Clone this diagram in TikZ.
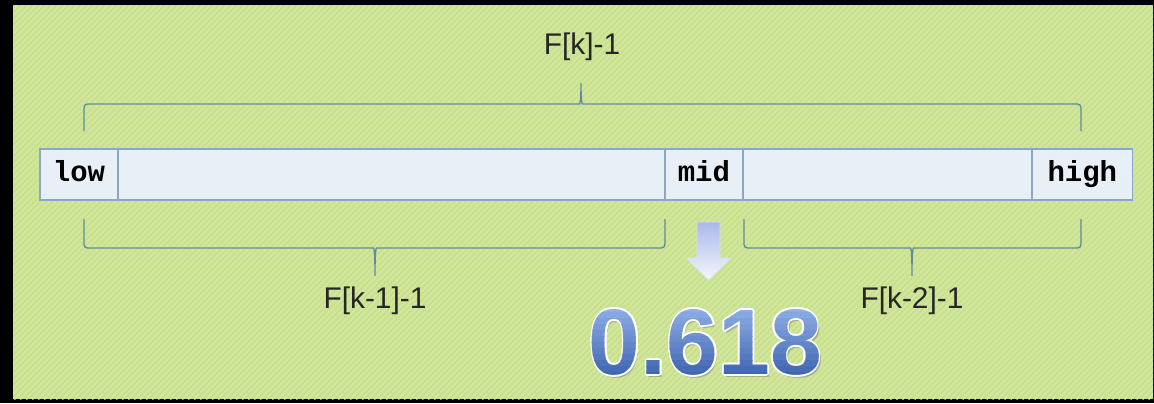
\documentclass[tikz,border=0pt]{standalone}
\usepackage{fontspec}
\setmainfont{Liberation Sans}
\setmonofont{Liberation Mono}
\usepackage{tikz}
\usetikzlibrary{positioning,calc}

\definecolor{bggreen}{RGB}{197,222,138}
\definecolor{stripegreen}{RGB}{209,230,154}
\definecolor{cellfill}{RGB}{233,239,247}
\definecolor{celledge}{RGB}{138,168,198}
\definecolor{bracecol}{RGB}{98,138,158}
\definecolor{ratiotop}{RGB}{150,180,235}
\definecolor{ratiobot}{RGB}{55,95,170}
\definecolor{arrowtop}{RGB}{170,185,235}
\definecolor{arrowmid}{RGB}{230,234,250}
\definecolor{arrowbot}{RGB}{245,246,253}
\definecolor{arrowedge}{RGB}{215,222,245}

\tikzset{
  cell/.style={draw=celledge, fill=cellfill, line width=0.8pt, inner sep=0pt, outer sep=0pt,
    minimum height=1.02cm, text height=12pt, text depth=4pt,
    font=\ttfamily\bfseries\fontsize{16.5}{18}\selectfont},
  bracepath/.style={draw=bracecol, line width=0.75pt, rounded corners=2pt},
  bracelabel/.style={font=\fontsize{17}{19}\selectfont, text=black!85, inner sep=0pt},
  ratiotext/.style={inner sep=0pt, font=\fontsize{53}{60}\selectfont\bfseries}
}

\begin{document}
\begin{tikzpicture}[x=0.02cm, y=-0.02cm]
      % Frame and green board
      \fill[black] (0,0) rectangle (1154,403);
      \fill[bggreen] (13,5) rectangle (1153,399);

      % Diagonal stripes on the board
      \begin{scope}
        \clip (13,5) rectangle (1153,399);
        \foreach \s in {-400,-394,...,1160}{
          \draw[stripegreen, line width=1.6pt] (\s,399) -- ++(394,-394);
        }
      \end{scope}

      % The array: low | ... | mid | ... | high
      \node[cell, anchor=west, minimum width=1.56cm] (lowc) at (40,174.5) {low};
      \node[cell, right=0pt of lowc, minimum width=10.94cm] (leftc) {};
      \node[cell, right=0pt of leftc, minimum width=1.56cm] (midc) {mid};
      \node[cell, right=0pt of midc, minimum width=5.78cm] (rightc) {};
      \node[cell, right=0pt of rightc, minimum width=2.02cm] (highc) {high};

      % Braces
      \draw[bracepath] (84,131) -- (84,104) -- (576,104)
        .. controls (580,104) and (581,100) .. (581,81)
        .. controls (581,100) and (582,104) .. (586,104) -- (1081,104) -- (1081,131);
      \draw[bracepath] (84,219) -- (84,248) -- (370,248)
        .. controls (374,248) and (375,252) .. (375,278)
        .. controls (375,252) and (376,248) .. (380,248) -- (665,248) -- (665,219);
      \draw[bracepath] (744,219) -- (744,248) -- (907,248)
        .. controls (911,248) and (912,252) .. (912,278)
        .. controls (912,252) and (913,248) .. (917,248) -- (1081,248) -- (1081,219);

      \node[bracelabel] (lblTop) at (582,47) {F[k]-1};
      \node[bracelabel] (lblLeft) at (375,301) {F[k-1]-1};
      \node[bracelabel] (lblRight) at (912,301) {F[k-2]-1};

      % Down arrow under mid
      \shade[top color=arrowtop, middle color=arrowmid, bottom color=arrowbot,
        draw=arrowedge, line width=0.4pt]
        (697,222) -- (720,222) -- (720,258) -- (731,258) -- (708.5,280) -- (686,258) -- (697,258) -- cycle;

      % 0.618 with shadow, white glow and a banded gradient
      \node[ratiotext, text=black!45, opacity=0.6] at (707.5,345) {0.618};
      \foreach \a in {0,30,...,330}{
        \node[ratiotext, text=white] at ($(705.5,342.5)+(\a:1.6)$) {0.618};
      }
      \foreach \k in {0,...,13}{
        \pgfmathsetmacro{\mixv}{100-\k*100/13}
        \begin{scope}
          \clip (560,{300+\k*6}) rectangle (860,{306+\k*6+0.5});
          \node[ratiotext, text=ratiotop!\mixv!ratiobot] (ratio) at (705.5,342.5) {0.618};
        \end{scope}
      }
\end{tikzpicture}
\end{document}
